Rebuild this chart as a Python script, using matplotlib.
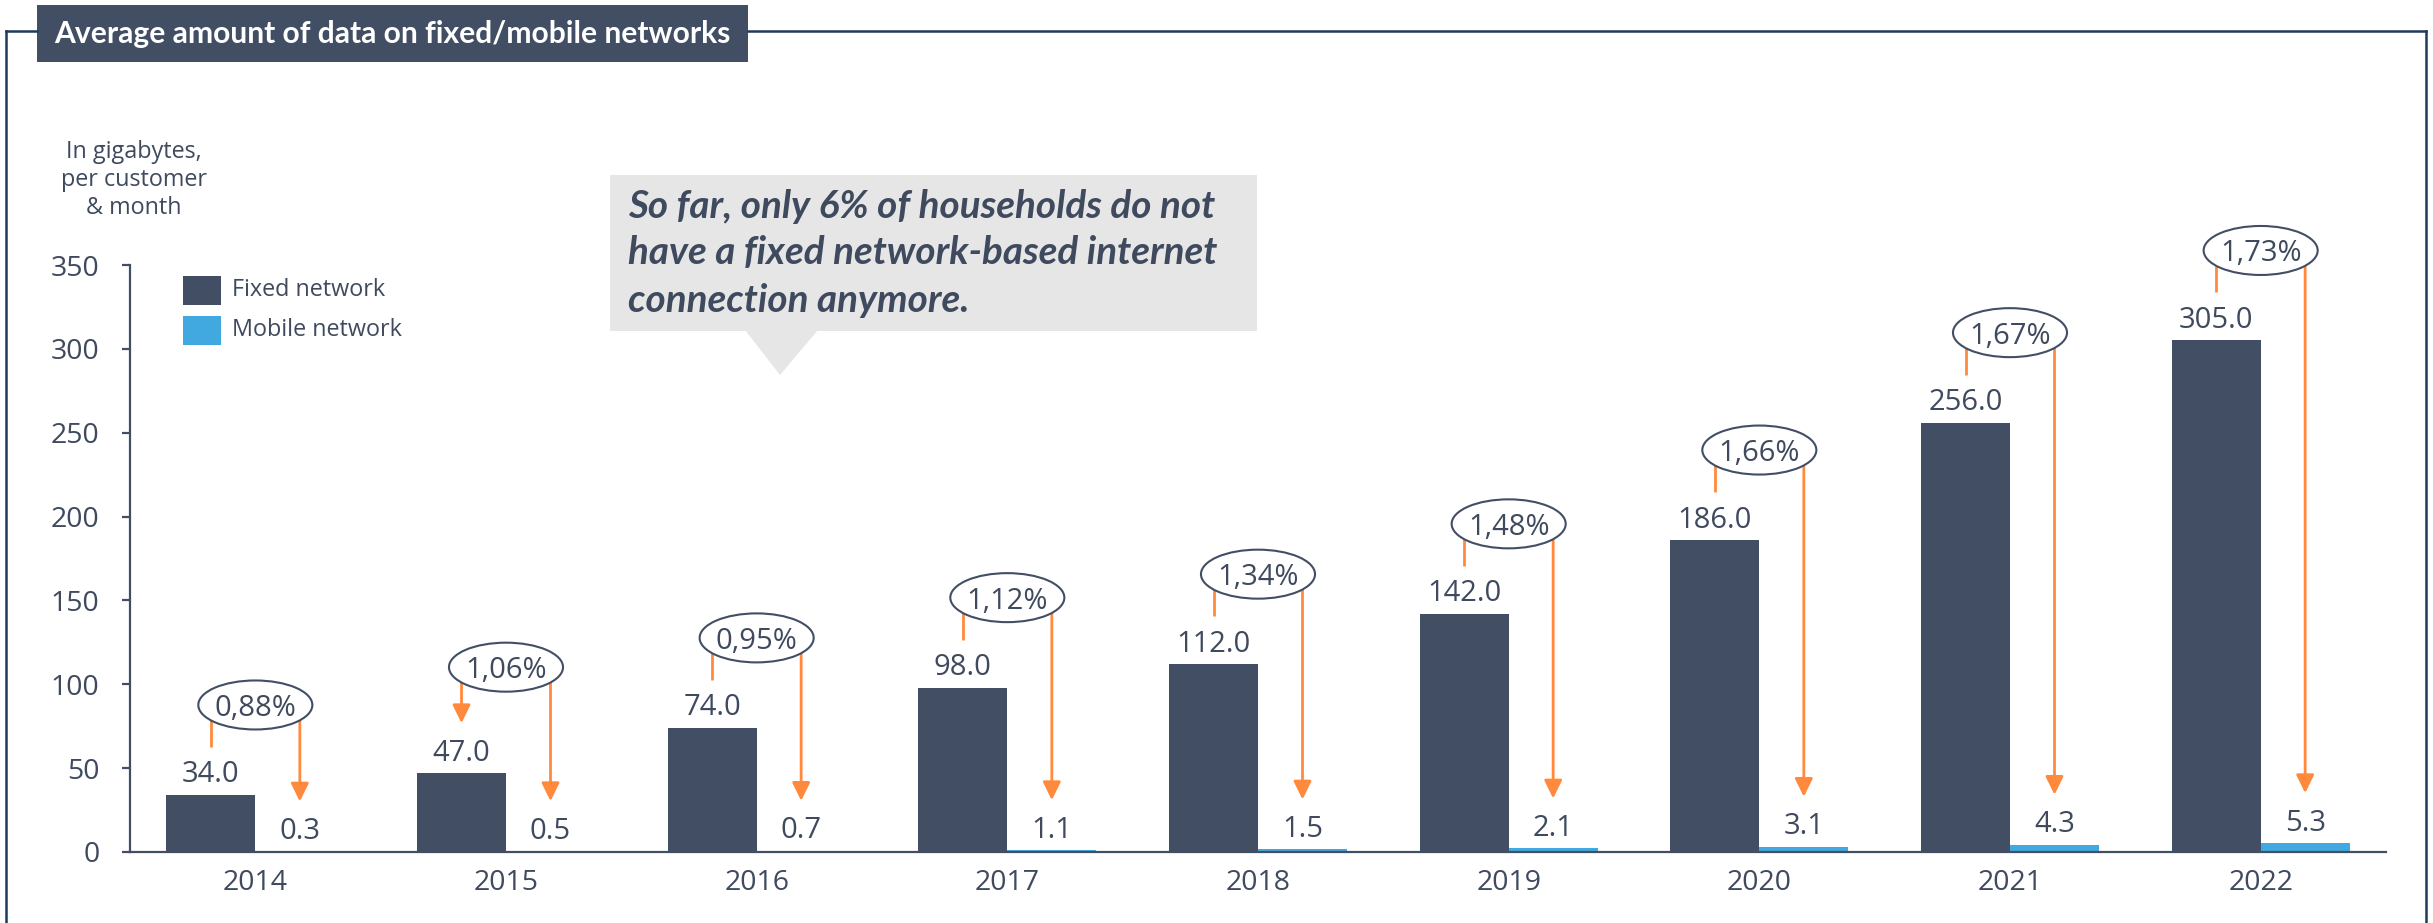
import matplotlib
matplotlib.use('Agg')
import matplotlib.pyplot as plt
from matplotlib.patches import Ellipse, Rectangle, Polygon
from matplotlib.lines import Line2D
import numpy as np

# ---------------- data ----------------
years = ['2014', '2015', '2016', '2017', '2018', '2019', '2020', '2021', '2022']
fixed = [34.0, 47.0, 74.0, 98.0, 112.0, 142.0, 186.0, 256.0, 305.0]
mobile = [0.3, 0.5, 0.7, 1.1, 1.5, 2.1, 3.1, 4.3, 5.3]
share = ['0,88%', '1,06%', '0,95%', '1,12%', '1,34%', '1,48%', '1,66%', '1,67%', '1,73%']
legend_labels = ['Fixed network', 'Mobile network']
y_ticks = [0, 50, 100, 150, 200, 250, 300, 350]
title = 'Average amount of data on fixed/mobile networks'
note_lines = ['So far, only 6% of households do not',
              'have a fixed network-based internet',
              'connection anymore.']
unit_lines = ['In gigabytes,', 'per customer', '& month']

# ---------------- style ----------------
DARK = '#424E64'
BLUE = '#41A9E0'
ORANGE = '#FF8A3D'
TEXT = '#3F4A5E'
FRAME = '#1F3B5A'
GREY = '#E6E6E6'
plt.rcParams['font.family'] = ['Open Sans', 'DejaVu Sans']

W, H = 2433, 923
fig = plt.figure(figsize=(W / 100, H / 100), dpi=100)


def fx(px):
    return px / W


def fy(py):
    return 1 - py / H


# axes
ax = fig.add_axes([fx(130), fy(852), fx(2386) - fx(130), fy(265) - fy(852)])
x = np.arange(len(years))
bw = 0.355
ax.bar(x - bw / 2, fixed, bw, color=DARK, zorder=2)
ax.bar(x + bw / 2, mobile, bw, color=BLUE, zorder=2)
ax.set_xlim(-0.5, len(years) - 0.5)
ax.set_ylim(0, 350)
ax.set_yticks(y_ticks)
ax.set_xticks(x)
ax.set_xticklabels(years)
for s in ['top', 'right']:
    ax.spines[s].set_visible(False)
for s in ['left', 'bottom']:
    ax.spines[s].set_color(DARK)
    ax.spines[s].set_linewidth(1.6)
ax.tick_params(axis='y', length=6, width=1.6, color=DARK, pad=16, labelsize=20.5, labelcolor=TEXT)
ax.tick_params(axis='x', length=0, pad=12, labelsize=20.5, labelcolor=TEXT)

# pixel -> data units (vertical)
u = 350 / 587.0
ell_w = 0.455
ell_h = 49 * u
lift = {i: 90 * u for i in range(len(years))}
lift[1] = 106 * u
left_is_arrow = {1}

arrow_kw = dict(arrowstyle='-|>,head_length=0.55,head_width=0.27', color=ORANGE,
                lw=2.0, mutation_scale=20, shrinkA=0, shrinkB=0)

for i in range(len(years)):
    xc = x[i]
    yc = fixed[i] + lift[i]
    # value labels
    ax.annotate(f'{fixed[i]:.1f}', (x[i] - bw / 2, fixed[i]), xytext=(0, 9),
                textcoords='offset points', ha='center', va='baseline',
                fontsize=21, color=TEXT, annotation_clip=False)
    ax.annotate(f'{mobile[i]:.1f}', (x[i] + bw / 2, mobile[i]), xytext=(0, 9),
                textcoords='offset points', ha='center', va='baseline',
                fontsize=21, color=TEXT, annotation_clip=False)
    # connector lines
    dx = bw / 2
    a = ell_w / 2
    b = ell_h / 2
    y0 = yc - b * np.sqrt(1 - (dx / a) ** 2)
    # left
    if i in left_is_arrow:
        ax.annotate('', xy=(xc - dx, fixed[i] + 50 * u), xytext=(xc - dx, y0),
                    arrowprops=arrow_kw, zorder=3, annotation_clip=False)
    else:
        ax.plot([xc - dx, xc - dx], [y0, fixed[i] + 48 * u], color=ORANGE, lw=2.0,
                solid_capstyle='butt', zorder=3, clip_on=False)
    # right arrow
    ax.annotate('', xy=(xc + dx, mobile[i] + 50 * u), xytext=(xc + dx, y0),
                arrowprops=arrow_kw, zorder=3, annotation_clip=False)
    # ellipse
    e = Ellipse((xc, yc), ell_w, ell_h, facecolor='white', edgecolor=DARK, lw=1.5,
                zorder=4, clip_on=False)
    ax.add_patch(e)
    ax.text(xc, yc, share[i], ha='center', va='center_baseline', fontsize=21,
            color=TEXT, zorder=5, clip_on=False)

# ---------------- frame & title ----------------
lw_frame = 1.8
fig.add_artist(Line2D([fx(6), fx(6)], [fy(31), fy(923)], color=FRAME, lw=lw_frame))
fig.add_artist(Line2D([fx(2426), fx(2426)], [fy(31), fy(923)], color=FRAME, lw=lw_frame))
fig.add_artist(Line2D([fx(6), fx(37)], [fy(31), fy(31)], color=FRAME, lw=lw_frame))
fig.add_artist(Line2D([fx(748), fx(2426)], [fy(31), fy(31)], color=FRAME, lw=lw_frame))
fig.add_artist(Rectangle((fx(37), fy(62)), fx(748) - fx(37), fy(5) - fy(62),
                         transform=fig.transFigure, facecolor=DARK, edgecolor='none'))
renderer = fig.canvas.get_renderer()


def fit(t, target):
    w = t.get_window_extent(renderer).width
    t.set_fontsize(t.get_fontsize() * target / w)


tt = fig.text(fx(392), fy(34), title, ha='center', va='center', color='white',
              fontsize=22, fontweight='bold', family=['Lato', 'DejaVu Sans'])
fit(tt, 673)

# unit label
for k, line in enumerate(unit_lines):
    fig.text(fx(134), fy(152 + 28 * k), line, ha='center', va='center', fontsize=16.8,
             color=TEXT)

# legend
for k, (lab, col) in enumerate(zip(legend_labels, [DARK, BLUE])):
    top = 276 + 40 * k
    fig.add_artist(Rectangle((fx(183), fy(top + 29)), fx(221) - fx(183), fy(top) - fy(top + 29),
                             transform=fig.transFigure, facecolor=col, edgecolor='none'))
    fig.text(fx(232), fy(top + 14), lab, ha='left', va='center', fontsize=16.8, color=TEXT)

# callout
fig.add_artist(Rectangle((fx(610), fy(331)), fx(1257) - fx(610), fy(175) - fy(331),
                         transform=fig.transFigure, facecolor=GREY, edgecolor='none'))
fig.add_artist(Polygon([[fx(745), fy(330)], [fx(818), fy(330)], [fx(780), fy(375)]],
                       closed=True, transform=fig.transFigure, facecolor=GREY, edgecolor='none'))
note_texts = []
for k, line in enumerate(note_lines):
    t = fig.text(fx(628), fy(206 + 47 * k), line, ha='left', va='center', fontsize=22,
                 fontweight='bold', fontstyle='italic', color=TEXT,
                 family=['Lato', 'DejaVu Sans'])
    note_texts.append(t)
w0 = note_texts[0].get_window_extent(renderer).width
for t in note_texts:
    t.set_fontsize(t.get_fontsize() * 585 / w0)

fig.savefig('out.png', dpi=100)
